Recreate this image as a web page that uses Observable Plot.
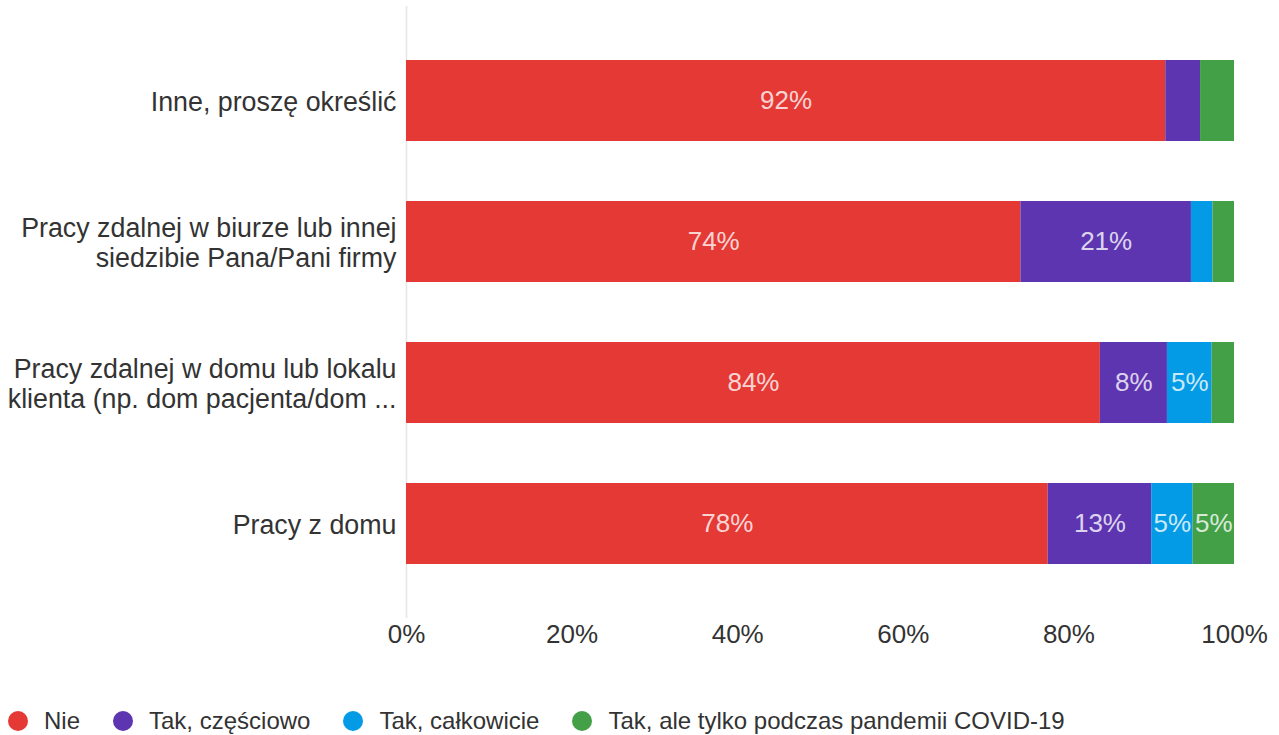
<!DOCTYPE html>
<html>
<head>
<meta charset="utf-8">
<script src="https://cdn.jsdelivr.net/npm/d3@7"></script>
<script src="https://cdn.jsdelivr.net/npm/@observablehq/plot@0.6"></script>
<style>
  body { margin: 0; background: #fff; font-family: "Liberation Sans", Arial, sans-serif; }
  #legend { display: flex; align-items: center; margin-top: 42px; padding-left: 8px; font-size: 24px; color: #333; height: 30px; }
  .item { display: flex; align-items: center; margin-right: 33px; }
  .dot { width: 20px; height: 20px; border-radius: 50%; margin-right: 16px; }
</style>
</head>
<body>
<div id="chart"></div>
<div id="legend"></div>
<script>
const categories = [
  "Inne, proszę określić",
  "Pracy zdalnej w biurze lub innej\nsiedzibie Pana/Pani firmy",
  "Pracy zdalnej w domu lub lokalu\nklienta (np. dom pacjenta/dom ...",
  "Pracy z domu"
];
const seriesNames = ["Nie", "Tak, częściowo", "Tak, całkowicie", "Tak, ale tylko podczas pandemii COVID-19"];
const colors = ["#e53935", "#5e35b1", "#039be5", "#43a047"];
const nie        = [91.7, 74.2, 83.8, 77.5];
const czesciowo  = [4.2, 20.6, 8.1, 12.5];
const calkowicie = [0.0, 2.6, 5.4, 5.0];
const pandemia   = [4.1, 2.6, 2.7, 5.0];
const xTicks = [0, 20, 40, 60, 80, 100];

const seriesValues = [nie, czesciowo, calkowicie, pandemia];
const data = [];
categories.forEach((c, i) => {
  seriesNames.forEach((s, j) => {
    data.push({category: c, series: s, value: seriesValues[j][i]});
  });
});

const chart = Plot.plot({
  width: 1279,
  height: 664,
  marginTop: 0,
  marginBottom: 40,
  marginLeft: 406,
  marginRight: 45,
  style: {fontFamily: "'Liberation Sans', Arial, sans-serif", fontSize: "26px", color: "#333", background: "#fff"},
  x: {domain: [0, 100], label: null},
  y: {domain: categories, padding: 0.4255, label: null},
  color: {domain: seriesNames, range: colors},
  marks: [
    Plot.ruleX([0], {stroke: "#e6e6e6", strokeWidth: 1.6, insetTop: 6, insetBottom: 6}),
    Plot.barX(data, Plot.stackX({x: "value", y: "category", fill: "series", order: seriesNames})),
    Plot.textX(data, Plot.stackX({
      x: "value", y: "category", z: "series", order: seriesNames,
      text: d => d.value >= 5 ? Math.round(d.value) + "%" : "",
      fill: "white", fillOpacity: 0.8, fontSize: 26
    })),
    Plot.axisX({ticks: xTicks, tickFormat: d => d + "%", tickSize: 0, tickPadding: 0, fontSize: 26, label: null}),
    Plot.axisY({tickSize: 0, tickPadding: 10, fontSize: 26.8, lineHeight: 1.13, label: null})
  ]
});
document.getElementById("chart").appendChild(chart);

const legend = document.getElementById("legend");
seriesNames.forEach((s, i) => {
  const item = document.createElement("div");
  item.className = "item";
  const dot = document.createElement("span");
  dot.className = "dot";
  dot.style.background = colors[i];
  const label = document.createElement("span");
  label.textContent = s;
  item.appendChild(dot);
  item.appendChild(label);
  legend.appendChild(item);
});
</script>
</body>
</html>
